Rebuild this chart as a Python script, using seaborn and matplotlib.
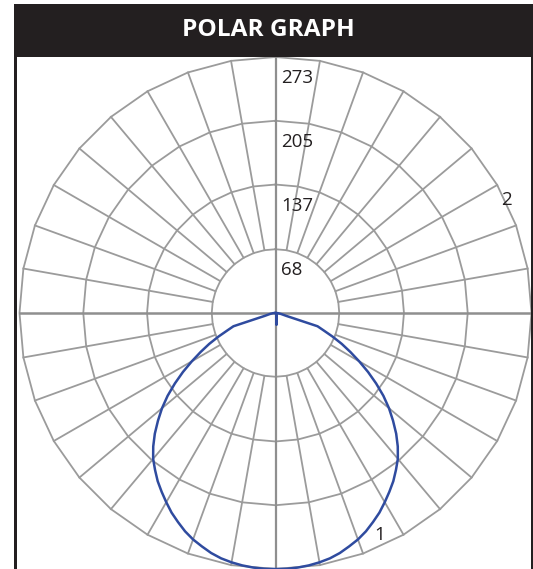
import numpy as np
import pandas as pd
import matplotlib
matplotlib.use("Agg")
import matplotlib.pyplot as plt
import seaborn as sns
from matplotlib.patches import Rectangle

# ---------------- data ----------------
title = "POLAR GRAPH"
ring_values = [68, 137, 205, 273]
ring_labels = ["68", "137", "205", "273"]
r_max = 273
spoke_step_deg = 10

# curve 1: angle from nadir (deg, -90..90 every 2.5) and intensity
c1_angles = list(np.arange(-90, 90.01, 2.5))
c1_values = [0, 1.5, 3, 4, 6, 8, 12, 47, 55, 66, 78, 90, 103, 117, 131, 145, 158,
             170, 182, 193, 203, 211, 219, 226, 233, 240, 246, 252, 257, 261, 265,
             268, 270, 271.5, 272.5, 273,
             273,
             273, 272.5, 271.5, 270, 268, 265, 261, 257, 252, 246, 240, 233, 226,
             219, 211, 203, 193, 182, 170, 158, 145, 131, 117, 103, 90, 78, 66, 55,
             47, 12, 8, 6, 4, 3, 1.5, 0]
# curve 2: almost empty
c2_angles = [-5, 0, 5]
c2_values = [0, 12, 0]
curve_names = ["1", "2"]

# ---------------- build table ----------------
rows = []
for name, angs, vals in [(curve_names[0], c1_angles, c1_values),
                         (curve_names[1], c2_angles, c2_values)]:
    for i, (a, v) in enumerate(zip(angs, vals)):
        t = np.deg2rad(a)
        rows.append({"curve": name, "order": i,
                     "x": v * np.sin(t), "y": -v * np.cos(t)})
df = pd.DataFrame(rows)

# ---------------- figure ----------------
W, H = 533, 569
fig = plt.figure(figsize=(W / 100, H / 100), dpi=100)
fig.patch.set_facecolor("white")
ax = fig.add_axes([0, 0, 1, 1])
ax.set_axis_off()

cx_px, cy_px = 275.5, 313.0
scale = 256.0 / r_max  # px per unit
ax.set_xlim(-cx_px / scale, (W - cx_px) / scale)
ax.set_ylim(-(H - cy_px) / scale, cy_px / scale)

grid_col = "#9b9b9b"
axis_col = "#8f8f8f"

# rings (polygons with vertices on spokes)
poly_ang = np.deg2rad(np.arange(0, 361, spoke_step_deg))
for rv in ring_values:
    ax.plot(rv * np.sin(poly_ang), rv * np.cos(poly_ang), color=grid_col,
            lw=1.3, zorder=1, solid_joinstyle="miter")

# spokes
for a in range(0, 360, spoke_step_deg):
    t = np.deg2rad(a)
    if a % 90 == 0:
        continue
    r0, r1 = ring_values[0], ring_values[-1]
    ax.plot([r0 * np.sin(t), r1 * np.sin(t)], [r0 * np.cos(t), r1 * np.cos(t)],
            color=grid_col, lw=1.3, zorder=1)
# main axes
ax.plot([-r_max, r_max], [0, 0], color=axis_col, lw=1.8, zorder=1.1)
ax.plot([0, 0], [-r_max, r_max], color=axis_col, lw=1.6, zorder=1.1)

# curves
blue = "#2f4b9f"
sns.lineplot(data=df, x="x", y="y", hue="curve", units="curve", estimator=None,
             sort=False, palette={curve_names[0]: blue, curve_names[1]: blue},
             lw=1.8, legend=False, ax=ax, zorder=3)
ax.set_axis_off()

# ring labels
for rv, lab in zip(ring_values, ring_labels):
    ax.annotate(lab, xy=(0, rv), xytext=(4.2, -18.8), textcoords="offset points",
                ha="left", va="baseline", fontsize=13.5, family="Open Sans",
                color="#231f20", zorder=4)

# curve labels
ax.text((380 - cx_px) / scale, (cy_px - 535) / scale, curve_names[0],
        ha="center", va="center", fontsize=13.5, family="Open Sans",
        color="#231f20", zorder=4)
ax.text((506 - cx_px) / scale, (cy_px - 200) / scale, curve_names[1],
        ha="center", va="center", fontsize=13.5, family="Open Sans",
        color="#231f20", zorder=4)

# frame and title bar
dark = "#231f20"
fig.patches.append(Rectangle((14 / W, 1 - 57 / H), (W - 14) / W, 53 / H,
                             transform=fig.transFigure, facecolor=dark,
                             edgecolor="none", zorder=5))
fig.patches.append(Rectangle((14 / W, 0), 3 / W, 1 - 57 / H,
                             transform=fig.transFigure, facecolor=dark,
                             edgecolor="none", zorder=5))
fig.patches.append(Rectangle((530.5 / W, 0), 2.5 / W, 1 - 57 / H,
                             transform=fig.transFigure, facecolor=dark,
                             edgecolor="none", zorder=5))
fig.text(268 / W, 1 - 36 / H, title, ha="center", va="baseline",
         color="white", fontsize=17.6, fontweight="bold", family="Open Sans",
         zorder=6)

fig.savefig("out.png", dpi=100, facecolor="white")
